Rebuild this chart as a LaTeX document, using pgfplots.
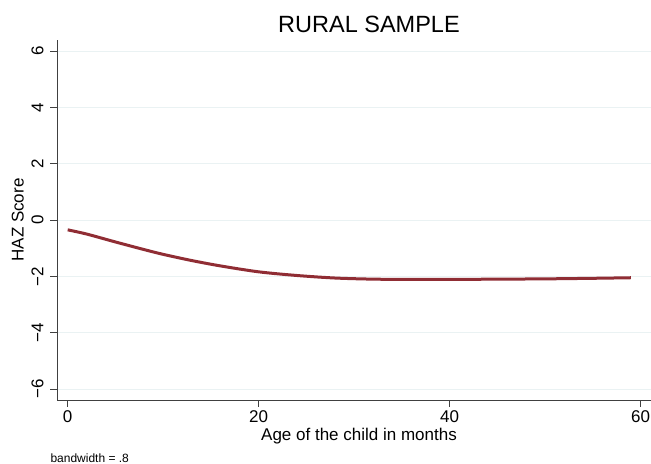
\documentclass[border=0pt]{standalone}
\usepackage{fontspec}
\setmainfont{Liberation Sans}
\usepackage{pgfplots}
\pgfplotsset{compat=1.18}
\definecolor{linered}{RGB}{144,45,52}
\definecolor{gridc}{RGB}{234,242,243}
\begin{document}
\begin{tikzpicture}[x=1bp,y=1bp]
\useasboundingbox (0,0) rectangle (651,464);
\begin{axis}[
  at={(57bp,64bp)}, anchor=south west,
  width=594bp, height=360bp, scale only axis,
  xmin=-1.12, xmax=61.1, ymin=-6.39, ymax=6.39,
  axis x line*=bottom, axis y line*=left,
  axis line style={line width=0.8pt, black!75},
  xtick={0,20,40,60}, ytick={-6,-4,-2,0,2,4,6},
  yticklabels={−6,−4,−2,0,2,4,6},
  tick align=outside, major tick length=7bp,
  tick style={black!75, line width=0.8pt},
  ymajorgrids, grid style={gridc, line width=0.8pt},
  every tick label/.append style={font=\fontsize{17bp}{20bp}\selectfont},
  yticklabel style={rotate=90, anchor=south, yshift=3bp},
  /pgf/number format/assume math mode=true,
  xlabel={Age of the child in months},
  xlabel style={font=\fontsize{17bp}{20bp}\selectfont, at={(axis description cs:0.5,0)}, anchor=north, yshift=-25bp, xshift=5bp},
  ylabel={HAZ Score},
  ylabel style={font=\fontsize{17bp}{20bp}\selectfont, at={(axis description cs:-0.066,0.5)}, anchor=center, rotate=0},
  clip=false,
]
\addplot[linered, line width=3bp, smooth] coordinates {
(0,-0.35) (2,-0.50) (5,-0.78) (8,-1.05) (10,-1.22) (13,-1.44) (16,-1.63)
(20,-1.84) (24,-1.97) (28,-2.06) (32,-2.10) (36,-2.11) (40,-2.11)
(45,-2.10) (50,-2.09) (55,-2.07) (59,-2.05)
};
\end{axis}
\node[font=\fontsize{23.5bp}{27bp}\selectfont] at (369,440) {RURAL SAMPLE};
\node[font=\fontsize{12bp}{14bp}\selectfont, anchor=west] at (47,6) {bandwidth = .8};
\end{tikzpicture}
\end{document}
